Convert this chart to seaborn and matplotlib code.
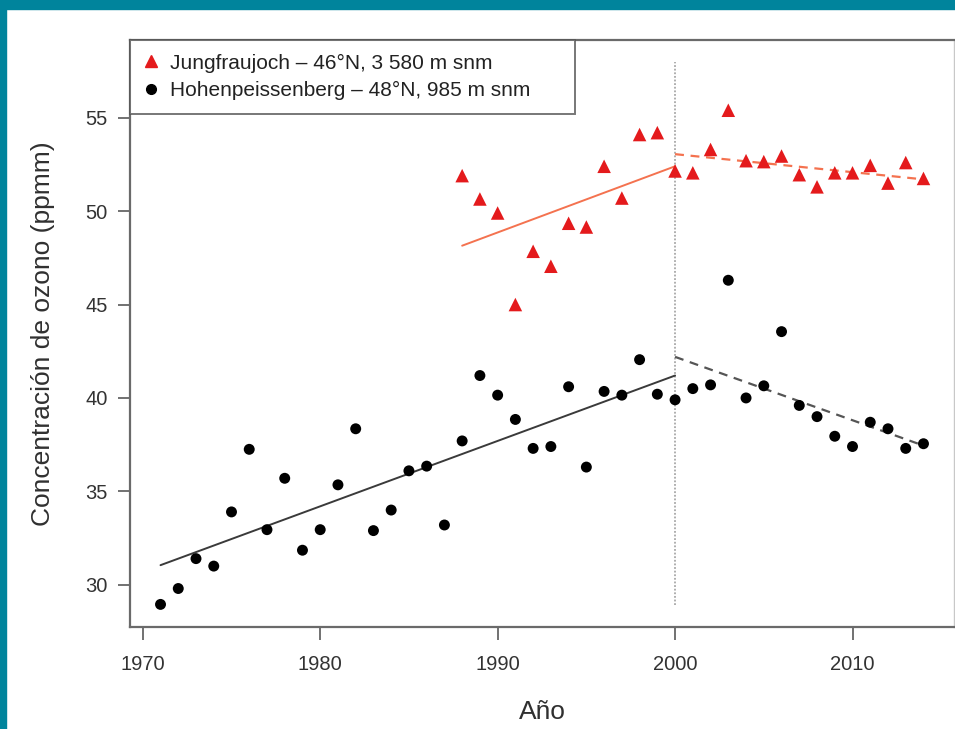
import numpy as np
import pandas as pd
import seaborn as sns
import matplotlib.pyplot as plt
from matplotlib.lines import Line2D
from matplotlib.patches import Rectangle

# %% data
hohen_years = list(range(1971, 2015))
hohen_o3 = [28.95, 29.8, 31.4, 31.0, 33.9, 37.25, 32.95, 35.7, 31.85, 32.95,
            35.35, 38.35, 32.9, 34.0, 36.1, 36.35, 33.2, 37.7, 41.2, 40.15,
            38.85, 37.3, 37.4, 40.6, 36.3, 40.35, 40.15, 42.05, 40.2, 39.9,
            40.5, 40.7, 46.3, 40.0, 40.65, 43.55, 39.6, 39.0, 37.95, 37.4,
            38.7, 38.35, 37.3, 37.55]

jungfrau_years = list(range(1988, 2015))
jungfrau_o3 = [51.9, 50.65, 49.9, 45.0, 47.85, 47.05, 49.35, 49.15, 52.4, 50.7,
               54.1, 54.2, 52.15, 52.05, 53.3, 55.4, 52.7, 52.65, 52.95, 51.95,
               51.3, 52.05, 52.05, 52.45, 51.5, 52.6, 51.75]

# trend lines (end points)
hohen_trend1_x, hohen_trend1_y = [1971, 2000], [31.05, 41.2]
hohen_trend2_x, hohen_trend2_y = [2000, 2014], [42.2, 37.45]
jung_trend1_x, jung_trend1_y = [1988, 2000], [48.15, 52.4]
jung_trend2_x, jung_trend2_y = [2000, 2014], [53.05, 51.7]

break_year = 2000
labels = ['Jungfraujoch – 46°N, 3 580 m snm', 'Hohenpeissenberg – 48°N, 985 m snm']

# %%
sns.set_style('ticks')
plt.rcParams['font.family'] = ['Liberation Sans', 'DejaVu Sans']

red = '#e41a1c'
red_line = '#f4724f'
dark = '#303030'
teal = '#00849c'

fig = plt.figure(figsize=(9.55, 7.29), dpi=100)
ax = fig.add_axes([130 / 955, 1 - 627 / 729, 824 / 955, 587 / 729])

df_h = pd.DataFrame({'year': hohen_years, 'o3': hohen_o3})
df_j = pd.DataFrame({'year': jungfrau_years, 'o3': jungfrau_o3})

ax.vlines(break_year, 28.9, 58, colors='#a8a8a8', linestyles=(0, (1, 1)), lw=1.3, zorder=1)

sns.lineplot(x=hohen_trend1_x, y=hohen_trend1_y, ax=ax, color='#3a3a3a', lw=1.4)
sns.lineplot(x=hohen_trend2_x, y=hohen_trend2_y, ax=ax, color='#555555', lw=1.6,
             linestyle=(0, (4, 3)))
sns.lineplot(x=jung_trend1_x, y=jung_trend1_y, ax=ax, color=red_line, lw=1.4)
sns.lineplot(x=jung_trend2_x, y=jung_trend2_y, ax=ax, color=red_line, lw=1.6,
             linestyle=(0, (4, 3)))

sns.scatterplot(data=df_h, x='year', y='o3', ax=ax, marker='o', s=62,
                color='black', edgecolor='none', zorder=3)
sns.scatterplot(data=df_j, x='year', y='o3', ax=ax, marker='^', s=95,
                color=red, edgecolor='none', zorder=3)

ax.set_xlim(1969.28, 2015.72)
ax.set_ylim(27.74, 59.16)
ax.set_xticks([1970, 1980, 1990, 2000, 2010])
ax.set_yticks([30, 35, 40, 45, 50, 55])
ax.tick_params(axis='both', direction='out', length=9, width=1.3, color='#666666',
               labelsize=14.5, labelcolor='#333333', pad=7, bottom=True, left=True)
ax.tick_params(axis='x', pad=11)
ax.set_xlabel('Año', fontsize=19, color=dark, labelpad=19)
ax.set_ylabel('Concentración de ozono (ppmm)', fontsize=19, color=dark, labelpad=22)
for side in ['left', 'bottom', 'top']:
    ax.spines[side].set_visible(True)
    ax.spines[side].set_color('#6a6a6a')
    ax.spines[side].set_linewidth(1.6)
ax.spines['right'].set_visible(True)
ax.spines['right'].set_color('#c8c8c8')
ax.spines['right'].set_linewidth(1.0)

handles = [
    Line2D([], [], marker='^', color=red, ls='none', markersize=8.5),
    Line2D([], [], marker='o', color='black', ls='none', markersize=7),
]
leg = ax.legend(handles, labels, loc='upper left', bbox_to_anchor=(0, 0, 445 / 824, 1),
                mode='expand', borderaxespad=0, fontsize=15,
                frameon=True, fancybox=False, handlelength=0.7, handletextpad=0.55,
                borderpad=0.65, labelspacing=0.42, labelcolor='#222222')
leg.get_frame().set_edgecolor('#555555')
leg.get_frame().set_linewidth(1.4)

# teal frame of the page
fig.patches.append(Rectangle((0, 1 - 9 / 729), 1, 9 / 729, transform=fig.transFigure,
                             color=teal, zorder=0))
fig.patches.append(Rectangle((0, 0), 6 / 955, 1, transform=fig.transFigure,
                             color=teal, zorder=0))

plt.savefig('out.png', dpi=100)
